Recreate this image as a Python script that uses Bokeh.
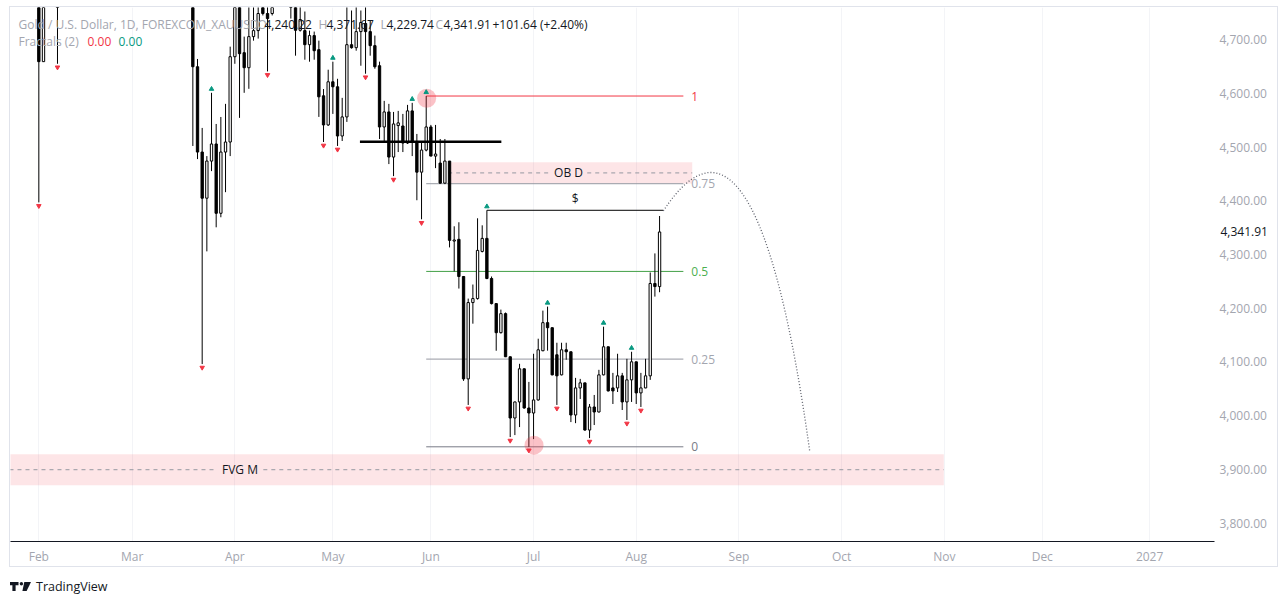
from bokeh.plotting import figure
from bokeh.models import ColumnDataSource, Range1d, FixedTicker, NumeralTickFormatter, Label, Div, LinearAxis
from bokeh.layouts import column
from bokeh.embed import file_html
from bokeh.resources import INLINE

# ---------------- data ----------------
month_labels = ["Feb", "Mar", "Apr", "May", "Jun", "Jul", "Aug", "Sep", "Oct", "Nov", "Dec", "2027"]
month_bars = [0, 20, 42, 63, 84, 106, 128, 150, 172, 194, 215, 238]
price_ticks = [3800, 3900, 4000, 4100, 4200, 4300, 4400, 4500, 4600, 4700]

# trading-day number of each daily bar (bars hidden above the chart are left out)
bars = [0, 1, 4] + list(range(33, 51)) + list(range(54, 134))

opens = [4785, 4659, 4800,
         4775, 4649.5, 4490.7, 4404.8, 4473.9, 4505.7, 4376.7, 4490.7, 4509.4, 4668.2,
         4790, 4675.7, 4647.7, 4705.6, 4716.8, 4762, 4748.6, 4748.6,
         4790, 4770, 4717.4, 4716.8, 4690.6, 4707.5, 4681.3, 4595.4, 4541.2, 4621.5,
         4612.2, 4520.6, 4556.1, 4690.6, 4685, 4714.9, 4729.9, 4714.9, 4688.8, 4651.4,
         4537.4, 4565.4, 4481.4, 4540, 4539.2, 4507.5, 4567.3, 4509.4, 4453.3, 4494.4,
         4537.4, 4483.2, 4470.2, 4432.8, 4473.9, 4325, 4328.2, 4259, 4068.4, 4210.5,
         4217.9, 4305.7, 4330, 4255.3, 4208.6, 4154.4, 4189.9, 4109.6, 3995.6, 4025.5,
         4087.2, 4014.2, 4004.9, 4029.2, 4120.8, 4173.1, 4163.7, 4113.3, 4075.9, 4122.6,
         4118.9, 4001.2, 4051.6, 4061, 3973.2, 4016.1, 4006.8, 4075.9, 4128.2, 4051.6,
         4051.6, 4074.1, 4025.5, 4066.6, 4100.2, 4042.3, 4051.6, 4074.1, 4246, 4240.22]
highs = [4810, 4820, 4830,
         4795, 4664, 4535.6, 4483.2, 4601, 4543, 4556, 4580.4, 4686.9, 4790,
         4800, 4705.6, 4775, 4770, 4775, 4775, 4770, 4790,
         4800, 4780, 4765, 4752.3, 4716.8, 4715, 4698.1, 4608, 4644, 4658.9,
         4627.1, 4591.6, 4775, 4754.2, 4770, 4754.2, 4770, 4735.5, 4707.5, 4659,
         4586, 4580.4, 4565.4, 4567.3, 4561.7, 4578.5, 4582.3, 4524.4, 4511.3, 4595,
         4541.2, 4541.2, 4515, 4515, 4474, 4352.5, 4360, 4260, 4217.9, 4244.1,
         4367.4, 4354.3, 4382.3, 4259, 4209, 4197.4, 4192, 4110, 4026, 4096.5,
         4088, 4062.8, 4115.2, 4143.2, 4195.5, 4203, 4164, 4135.7, 4135.7, 4135.7,
         4119, 4070.3, 4068.4, 4061, 4021.7, 4038.5, 4085.3, 4165.6, 4128.5, 4079.6,
         4115.2, 4079.6, 4105.8, 4118.9, 4100.5, 4079.6, 4105.8, 4266.5, 4302, 4371.67]
lows = [4397, 4659, 4655,
        4502, 4477.6, 4096, 4305.8, 4455.2, 4350.6, 4369.3, 4416, 4483.2, 4655,
        4554.3, 4601, 4608.4, 4698.1, 4701.9, 4745, 4640.8, 4745,
        4739.2, 4670.1, 4715, 4662.6, 4658.9, 4662.6, 4556.1, 4509.4, 4539.3, 4561.7,
        4502, 4511.3, 4546.8, 4683.2, 4679.4, 4651.4, 4636.5, 4670.1, 4645.8, 4515,
        4509.4, 4468.3, 4445.9, 4490.7, 4490.7, 4505.7, 4483.2, 4401, 4365.5, 4492,
        4483, 4460.8, 4432, 4431, 4313.2, 4268.4, 4236.6, 4064.7, 4019.9, 4171.2,
        4216, 4303.9, 4254, 4207, 4120.8, 4153, 4109, 3960.1, 3963.8, 3978.7,
        4013, 3942, 3956.3, 4028, 4120, 4121, 4075, 4019.9, 4075, 4104,
        3988, 3986, 4031, 3972, 3958.2, 3982.5, 4006, 4075, 4045, 4021.7,
        4044, 4010.5, 3991.9, 4025.5, 4021.7, 4016.1, 4051, 4066.6, 4221.6, 4229.74]
closes = [4659, 4780, 4780,
          4649.5, 4490.7, 4404.8, 4473.9, 4505.7, 4376.7, 4490.7, 4509.4, 4668.2, 4770,
          4673.8, 4647.7, 4705.6, 4716.8, 4748.6, 4748.6, 4739.2, 4770,
          4770, 4717.4, 4737.4, 4690.6, 4707.5, 4679.4, 4593.5, 4541.2, 4621.5, 4612.2,
          4520.6, 4556.1, 4690.6, 4685, 4714.9, 4731.8, 4714.9, 4688.8, 4649.5, 4537.4,
          4565.4, 4481.4, 4543, 4545, 4507.5, 4567.3, 4509.4, 4453.3, 4494.4, 4537.4,
          4483.2, 4487, 4432.8, 4473.9, 4326.3, 4327, 4259, 4068.4, 4210.5, 4217.9,
          4307.6, 4330, 4255.3, 4208.6, 4154.4, 4189.9, 4109.6, 3995.6, 4025.5, 4087.2,
          4014.2, 4004.9, 4029.2, 4122.6, 4173.1, 4163.7, 4075.9, 4074.1, 4122.6, 4118.9,
          4001.2, 4051.6, 4061, 3973.2, 4016.1, 4006.8, 4075.9, 4128.2, 4046, 4046,
          4074.1, 4025.5, 4066.6, 4100.2, 4042.3, 4051.6, 4074.1, 4246, 4240.27, 4341.91]

fractal_up_bars = [37, 63, 80, 83, 96, 109, 121, 127]
fractal_down_bars = [0, 4, 35, 49, 61, 64, 70, 76, 82, 92, 101, 105, 111, 118, 126, 129]

# drawings
ob_line_bars = [68.8, 99.1]
ob_line_price = 4510
obd_bars = [87.7, 140.0]
obd_prices = [4471.5, 4432.2]
obd_label_bar = 113.5
fvg_bars = [-8, 193.9]
fvg_prices = [3928.3, 3870.4]
fvg_label_bar = 43.1
fib_bars = [83, 138.1]
fib_high, fib_low = 4595, 3942
fib_levels = [1, 0.75, 0.5, 0.25, 0]
fib_label_bar = 139.8
sweep_bars = [96, 133.8]
sweep_price = 4382.3
sweep_label_bar = 114.9
circle_bars = [83.1, 106.1]
circle_prices = [4591, 3945.1]
arc_start = (133.8, 4381)
arc_ctrl = (153.8, 4645.8)
arc_end = (165.2, 3932)

# ---------------- figure ----------------
FONT = "Open Sans"
GREY = "#a3a6af"
DARK = "#131722"

p = figure(width=1269, height=561, output_backend="svg", toolbar_location=None,
           title=None, x_range=Range1d(-6.07, 251.9), y_range=Range1d(3765.7, 4759.8),
           y_axis_location="right", min_border_left=0, min_border_right=65,
           min_border_top=0, min_border_bottom=27, margin=(6, 0, 0, 9))
p.styles = {"border": "1px solid #e0e3eb"}
p.outline_line_color = None
p.background_fill_color = "white"
p.border_fill_color = "white"

# axes
xa = p.xaxis[0]
xa.ticker = FixedTicker(ticks=month_bars)
xa.major_label_overrides = {b: m for b, m in zip(month_bars, month_labels)}
xa.axis_line_color = DARK
xa.major_tick_line_color = None
xa.minor_tick_line_color = None
xa.major_tick_out = 0
xa.major_tick_in = 0
xa.major_label_standoff = 6
xa.major_label_text_font = FONT
xa.major_label_text_font_size = "12px"
xa.major_label_text_color = GREY

ya = p.yaxis[0]
ya.ticker = FixedTicker(ticks=price_ticks)
ya.formatter = NumeralTickFormatter(format="0,0.00")
ya.axis_line_color = None
ya.major_tick_line_color = None
ya.minor_tick_line_color = None
ya.major_tick_out = 0
ya.major_tick_in = 0
ya.major_label_standoff = 5
ya.major_label_text_font = FONT
ya.major_label_text_font_size = "12px"
ya.major_label_text_color = GREY

p.xgrid.grid_line_color = "#f3f4f7"
p.ygrid.grid_line_color = None

# zones (under candles)
p.quad(left=[obd_bars[0]], right=[obd_bars[1]], top=[obd_prices[0]], bottom=[obd_prices[1]],
       fill_color="#f23645", fill_alpha=0.13, line_color=None)
p.quad(left=[fvg_bars[0]], right=[fvg_bars[1]], top=[fvg_prices[0]], bottom=[fvg_prices[1]],
       fill_color="#f23645", fill_alpha=0.13, line_color=None)

obd_mid = (obd_prices[0] + obd_prices[1]) / 2
fvg_mid = (fvg_prices[0] + fvg_prices[1]) / 2
gap_ob, gap_fvg = 4.0, 5.0
p.multi_line(xs=[[obd_bars[0], obd_label_bar - gap_ob], [obd_label_bar + gap_ob, obd_bars[1]]],
             ys=[[obd_mid, obd_mid], [obd_mid, obd_mid]], line_color="#9598a1", line_dash="4 4", line_width=1)
p.multi_line(xs=[[fvg_bars[0], fvg_label_bar - gap_fvg], [fvg_label_bar + gap_fvg, fvg_bars[1]]],
             ys=[[fvg_mid, fvg_mid], [fvg_mid, fvg_mid]], line_color="#9598a1", line_dash="4 4", line_width=1)

# fib levels
fib_colors = {1: "#f23645", 0.75: "#9598a1", 0.5: "#43a047", 0.25: "#9598a1", 0: "#787b86"}
fib_label_colors = {1: "#f23645", 0.75: GREY, 0.5: "#4caf50", 0.25: GREY, 0: "#787b86"}
for lv in fib_levels:
    pr = fib_low + lv * (fib_high - fib_low)
    p.line(x=fib_bars, y=[pr, pr], line_color=fib_colors[lv], line_width=1)
    p.add_layout(Label(x=fib_label_bar, y=pr, text=("%g" % lv), text_font=FONT, text_font_size="12px",
                       text_color=fib_label_colors[lv], text_baseline="middle", text_align="left"))

# candles
src = ColumnDataSource(dict(x=bars, o=opens, h=highs, l=lows, c=closes,
                            top=[max(a, b) for a, b in zip(opens, closes)],
                            bot=[min(a, b) for a, b in zip(opens, closes)],
                            fill=["white" if c >= o else "black" for o, c in zip(opens, closes)]))
p.segment(x0="x", y0="h", x1="x", y1="l", source=src, line_color="black", line_width=1)
p.vbar(x="x", width=0.5, top="top", bottom="bot", source=src, fill_color="fill", line_color="black", line_width=1)

# thick order-block line
p.line(x=ob_line_bars, y=[ob_line_price, ob_line_price], line_color="black", line_width=2.6)
# liquidity line
p.line(x=sweep_bars, y=[sweep_price, sweep_price], line_color="black", line_width=1)
p.add_layout(Label(x=sweep_label_bar, y=sweep_price, text="$", text_font=FONT, text_font_size="12px",
                   text_color=DARK, text_align="center", text_baseline="bottom", y_offset=3))

# projected arc
p.quadratic(x0=[arc_start[0]], y0=[arc_start[1]], x1=[arc_end[0]], y1=[arc_end[1]],
            cx=[arc_ctrl[0]], cy=[arc_ctrl[1]], line_color="#5d606b", line_dash="1 2", line_width=1.3)

# highlight circles
p.scatter(x=circle_bars, y=circle_prices, size=19, marker="circle", fill_color="#f23645",
          fill_alpha=0.3, line_color=None)

# fractal markers
hi_map = dict(zip(bars, highs))
lo_map = dict(zip(bars, lows))
p.scatter(x=fractal_up_bars, y=[hi_map[b] + 7 for b in fractal_up_bars], marker="triangle",
          size=4.5, fill_color="#089981", line_color="#089981")
p.scatter(x=fractal_down_bars, y=[lo_map[b] - 6.5 for b in fractal_down_bars], marker="inverted_triangle",
          size=4.5, fill_color="#f23645", line_color="#f23645")

# zone labels
p.add_layout(Label(x=obd_label_bar, y=obd_mid, text="OB D", text_font=FONT, text_font_size="12px",
                   text_color=DARK, text_align="center", text_baseline="middle"))
p.add_layout(Label(x=fvg_label_bar, y=fvg_mid, text="FVG M", text_font=FONT, text_font_size="12px",
                   text_color=DARK, text_align="center", text_baseline="middle"))

# legend header (screen units, relative to the frame)
o_last, h_last, l_last, c_last = opens[-1], highs[-1], lows[-1], closes[-1]
prev_close = closes[-2]
chg = c_last - prev_close
header = [
    (8, "Gold / U.S. Dollar, 1D, FOREXCOM_XAUUSD", GREY),
    (247, "O", GREY), (254, f"{o_last:,.2f}", DARK),
    (308, "H", GREY), (316, f"{h_last:,.2f}", DARK),
    (370, "L", GREY), (376, f"{l_last:,.2f}", DARK),
    (425, "C", GREY), (433, f"{c_last:,.2f}", DARK),
    (482, f"{chg:+,.2f} ({chg / prev_close * 100:+.2f}%)", DARK),
]
for sx, t, col in header:
    p.add_layout(Label(x=sx, y=517, x_units="screen", y_units="screen", text=t, text_font=FONT,
                       text_font_size="12px", text_color=col, text_baseline="middle"))
for sx, t, col in [(8, "Fractals (2)", GREY), (77, "0.00", "#f23645"), (108, "0.00", "#089981")]:
    p.add_layout(Label(x=sx, y=500, x_units="screen", y_units="screen", text=t, text_font=FONT,
                       text_font_size="12px", text_color=col, text_baseline="middle"))

# last price on the scale: an extra right axis with one tick, folded back under the price labels
last_axis = LinearAxis(ticker=FixedTicker(ticks=[c_last]), formatter=NumeralTickFormatter(format="0,0.00"),
                       axis_line_color=None, major_tick_line_color=None, minor_tick_line_color=None,
                       major_tick_out=0, major_tick_in=0, major_label_standoff=-49,
                       major_label_text_font=FONT, major_label_text_font_size="12px",
                       major_label_text_color=DARK)
p.add_layout(last_axis, "right")

logo_svg = ('<svg width="21" height="9" viewBox="0 0 21 9" style="margin-right:5px">'
            '<path d="M0 0h8.5v3.3H5.6V9H2.4V3.3H0z" fill="#131722"/>'
            '<circle cx="11.4" cy="1.7" r="1.7" fill="#131722"/>'
            '<path d="M14.3 0H21L16.6 9H12.4z" fill="#131722"/></svg>')
div = Div(text=('<div style="display:flex;align-items:center;'
                f'font-family:\'{FONT}\';font-size:12.5px;color:#131722">{logo_svg}<span>TradingView</span></div>'),
          width=300, height=22, margin=(11, 0, 0, 10))

layout = column(p, div, spacing=0)
open("out.html", "w").write(file_html(layout, INLINE))
